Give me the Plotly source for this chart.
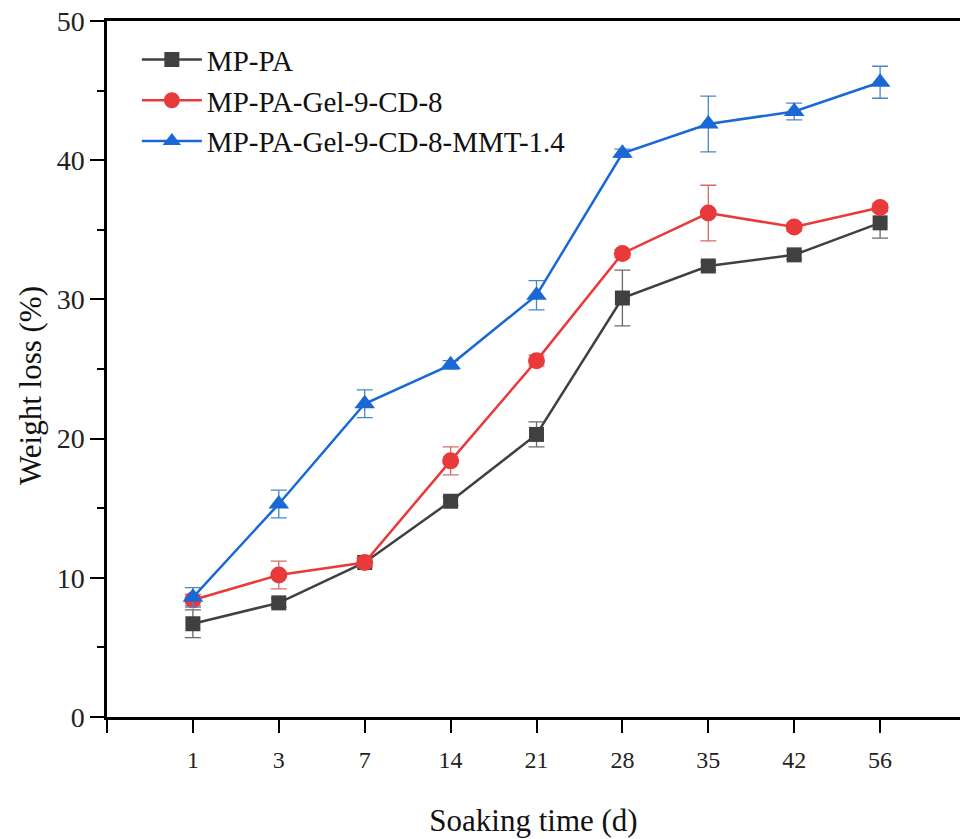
import plotly.graph_objects as go

days = ["1", "3", "7", "14", "21", "28", "35", "42", "56"]

mp_pa = [6.7, 8.2, 11.1, 15.5, 20.3, 30.1, 32.4, 33.2, 35.5]
mp_pa_err = [1.0, 0.3, 0.3, 0.3, 0.9, 2.0, 0.3, 0.3, 1.1]

gel = [8.4, 10.2, 11.1, 18.4, 25.6, 33.3, 36.2, 35.2, 36.6]
gel_err = [0.4, 1.0, 0.3, 1.0, 0.4, 0.3, 2.0, 0.3, 0.3]

mmt = [8.6, 15.3, 22.5, 25.3, 30.3, 40.5, 42.6, 43.5, 45.6]
mmt_err = [0.7, 1.0, 1.0, 0.3, 1.05, 0.3, 2.0, 0.6, 1.15]

names = ["MP-PA", "MP-PA-Gel-9-CD-8", "MP-PA-Gel-9-CD-8-MMT-1.4"]
colors = ["#404040", "#e83a3a", "#1a68d6"]
err_colors = ["#6a6a6a", "#d86a6a", "#4a86c8"]
symbols = ["square", "circle", "triangle-up"]
sizes = [15, 17, 18]

FONT = "Liberation Serif"
xs = list(range(len(days)))

fig = go.Figure()
for ys, es, name, c, ec, sym, sz in zip([mp_pa, gel, mmt], [mp_pa_err, gel_err, mmt_err],
                                         names, colors, err_colors, symbols, sizes):
    fig.add_trace(go.Scatter(
        x=xs, y=ys, name=name, mode="lines+markers",
        line=dict(color=c, width=2.5),
        marker=dict(symbol=sym, size=sz, color=c, line=dict(width=0)),
        error_y=dict(type="data", array=es, visible=True, color=ec, thickness=1.3, width=8),
    ))

fig.update_layout(
    width=960, height=839,
    margin=dict(l=107, r=0, t=21, b=122),
    paper_bgcolor="white", plot_bgcolor="white",
    font=dict(family=FONT, color="#111111"),
    showlegend=True,
    legend=dict(x=0.035, y=0.981, xanchor="left", yanchor="top",
                font=dict(family=FONT, size=29, color="#111111"),
                bgcolor="rgba(0,0,0,0)", tracegroupgap=0, itemwidth=60),
    xaxis=dict(
        range=[-1, 8.93],
        tickmode="array",
        tickvals=[-1] + xs,
        ticktext=[""] + days,
        showgrid=False, zeroline=False,
        showline=True, linecolor="black", linewidth=2.5, mirror=True,
        ticks="outside", ticklen=13, tickwidth=2, tickcolor="black",
        ticklabelstandoff=6,
        tickfont=dict(family=FONT, size=24, color="#222222"),
        title=dict(text="Soaking time (d)", font=dict(family=FONT, size=31, color="#111111"), standoff=38),
    ),
    yaxis=dict(
        range=[0, 50],
        tickvals=[0, 10, 20, 30, 40, 50],
        showgrid=False, zeroline=False,
        showline=True, linecolor="black", linewidth=2.5,
        ticks="outside", ticklen=14, tickwidth=2, tickcolor="black",
        minor=dict(dtick=5, ticks="outside", ticklen=7, tickwidth=2, tickcolor="black", showgrid=False),
        ticklabelstandoff=0,
        tickfont=dict(family=FONT, size=28, color="#222222"),
    ),
    annotations=[dict(
        text="Weight loss (%)", textangle=-90,
        xref="paper", yref="paper", x=-0.0903, y=0.477,
        xanchor="center", yanchor="middle", showarrow=False,
        font=dict(family=FONT, size=31, color="#111111"),
    )],
)

fig.write_html("out.html")
